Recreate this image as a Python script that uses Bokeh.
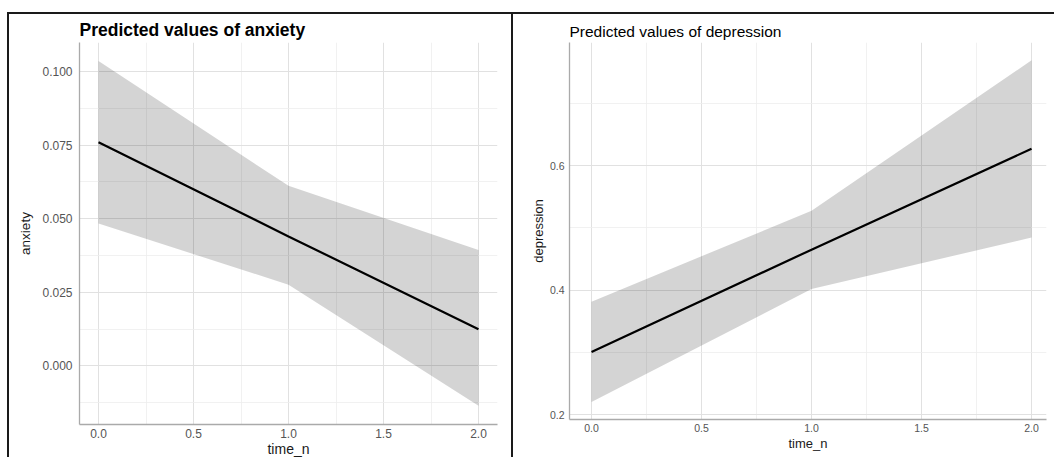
from bokeh.plotting import figure
from bokeh.layouts import row, column
from bokeh.models import FixedTicker, NumeralTickFormatter, Range1d
from bokeh.embed import file_html
from bokeh.resources import INLINE

# ---- data ----
time_n = [0.0, 1.0, 2.0]

anx_fit = [0.076, 0.044, 0.0125]
anx_low = [0.0484, 0.0276, -0.0135]
anx_high = [0.1036, 0.0612, 0.0394]

dep_fit = [0.301, 0.465, 0.627]
dep_low = [0.2204, 0.402, 0.4845]
dep_high = [0.3815, 0.5275, 0.769]

x_ticks = [0.0, 0.5, 1.0, 1.5, 2.0]
x_minor = [0.25, 0.75, 1.25, 1.75]
anx_ticks = [0.0, 0.025, 0.05, 0.075, 0.1]
anx_minor = [-0.0125, 0.0125, 0.0375, 0.0625, 0.0875]
dep_ticks = [0.2, 0.4, 0.6]
dep_minor = [0.3, 0.5, 0.7]

FONT = "Liberation Sans"
BORDER = "2px solid #1a1a1a"


def style(p, xt, xm, yt, ym, xfmt, yfmt, tick_size, xlab_size, ylab_size):
    p.xaxis.ticker = FixedTicker(ticks=xt, minor_ticks=xm)
    p.yaxis.ticker = FixedTicker(ticks=yt, minor_ticks=ym)
    p.xaxis.formatter = NumeralTickFormatter(format=xfmt)
    p.yaxis.formatter = NumeralTickFormatter(format=yfmt)
    for ax in (p.xaxis[0], p.yaxis[0]):
        ax.major_tick_out = 0
        ax.major_tick_in = 0
        ax.minor_tick_out = 0
        ax.minor_tick_in = 0
        ax.axis_line_color = "#AAAAAA"
        ax.axis_line_width = 1.3
        ax.major_label_text_font = FONT
        ax.major_label_text_font_size = tick_size
        ax.major_label_text_color = "#555555"
        ax.axis_label_text_font = FONT
        ax.axis_label_text_font_style = "normal"
        ax.axis_label_text_color = "#1A1A1A"
    p.xaxis.axis_label_text_font_size = xlab_size
    p.yaxis.axis_label_text_font_size = ylab_size
    for g in (p.xgrid[0], p.ygrid[0]):
        g.grid_line_color = "#E1E1E1"
        g.grid_line_width = 1
        g.minor_grid_line_color = "#EDEDED"
        g.minor_grid_line_width = 0.8
    p.outline_line_color = None
    p.background_fill_color = "white"
    p.border_fill_color = "white"
    p.title.text_font = FONT
    p.title.text_color = "black"
    p.title.align = "left"


# ---- left: anxiety ----
p1 = figure(width=506, height=445, output_backend="svg", toolbar_location=None,
            x_range=Range1d(-0.1, 2.1), y_range=Range1d(-0.0199, 0.1099),
            title="Predicted values of anxiety",
            x_axis_label="time_n", y_axis_label="anxiety",
            min_border_left=70, min_border_right=18, min_border_top=28,
            min_border_bottom=34)
p1.varea(x=time_n, y1=anx_low, y2=anx_high, fill_color="black", fill_alpha=0.17)
p1.line(x=time_n, y=anx_fit, line_color="black", line_width=2.2)
style(p1, x_ticks, x_minor, anx_ticks, anx_minor, "0.0", "0.000",
      "12px", "14px", "13.5px")
p1.xaxis.major_label_standoff = 4
p1.xaxis.axis_label_standoff = 0
p1.yaxis.major_label_standoff = 7
p1.yaxis.axis_label_standoff = 6
p1.title.text_font_size = "17.5px"
p1.title.text_font_style = "bold"
p1.title.standoff = 5
p1.styles = {"border-top": BORDER, "border-left": BORDER, "border-right": BORDER}

# ---- right: depression ----
p2 = figure(width=541, height=445, output_backend="svg", toolbar_location=None,
            x_range=Range1d(-0.1, 2.068), y_range=Range1d(0.1925, 0.7975),
            title="Predicted values of depression",
            x_axis_label="time_n", y_axis_label="depression",
            min_border_left=56, min_border_right=8, min_border_top=28,
            min_border_bottom=40)
p2.varea(x=time_n, y1=dep_low, y2=dep_high, fill_color="black", fill_alpha=0.17)
p2.line(x=time_n, y=dep_fit, line_color="black", line_width=2.2)
style(p2, x_ticks, x_minor, dep_ticks, dep_minor, "0.0", "0.0",
      "10.5px", "13px", "13px")
p2.xaxis.major_label_standoff = 4
p2.xaxis.axis_label_standoff = 1
p2.yaxis.major_label_standoff = 5
p2.yaxis.axis_label_standoff = 1
p2.title.text_font_size = "15.5px"
p2.title.text_font_style = "normal"
p2.title.standoff = 6
p2.styles = {"border-top": BORDER}

layout = row(column(p1), column(p2), margin=(12, 0, 0, 7))
open("out.html", "w").write(file_html(layout, INLINE))
